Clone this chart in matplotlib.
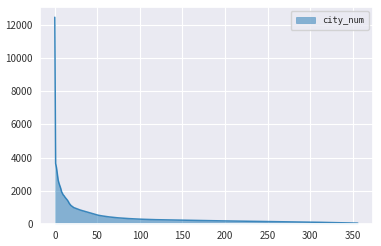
import matplotlib
matplotlib.use("Agg")
import matplotlib.pyplot as plt
import seaborn as sns
import numpy as np
from matplotlib.patches import Patch

sns.set_theme(style="darkgrid")
plt.rcParams['font.family'] = ['Noto Sans CJK SC', 'DejaVu Sans']

series_name = "city_num"
city_num = [
    12440,
    3650, 3400, 3000, 2650, 2450, 2300, 2150, 1950, 1850, 1750,
    1700, 1620, 1560, 1500, 1430, 1350, 1250, 1180, 1120, 1080,
    1050, 1000, 980, 960, 940, 920, 900, 880, 860, 845,
    830, 815, 800, 785, 770, 755, 740, 725, 710, 695,
    680, 665, 650, 635, 620, 605, 590, 575, 560, 545,
    535, 525, 515, 505, 498, 490, 482, 475, 468, 460,
    452, 445, 438, 432, 426, 420, 414, 408, 402, 397,
    392, 387, 382, 378, 374, 370, 366, 362, 358, 354,
    350, 347, 344, 341, 338, 335, 332, 330, 327, 324,
    321, 318, 316, 313, 310, 308, 305, 303, 300, 298,
    296, 294, 292, 290, 288, 286, 284, 282, 281, 279,
    278, 276, 275, 273, 272, 270, 269, 268, 266, 265,
    264, 262, 261, 260, 259, 258, 257, 256, 255, 254,
    253, 252, 251, 250, 249, 248, 247, 246, 246, 245,
    244, 243, 243, 242, 241, 241, 240, 240, 239, 238,
    237, 236, 235, 234, 233, 232, 231, 230, 229, 228,
    227, 226, 225, 224, 223, 222, 221, 220, 219, 218,
    217, 216, 215, 214, 213, 212, 211, 210, 209, 208,
    207, 206, 205, 204, 204, 203, 202, 201, 200, 200,
    199, 198, 197, 197, 196, 195, 195, 194, 193, 192,
    191, 190, 190, 189, 188, 187, 187, 186, 185, 184,
    184, 183, 182, 181, 181, 180, 179, 178, 178, 177,
    176, 175, 175, 174, 173, 172, 172, 171, 170, 169,
    169, 168, 167, 166, 166, 165, 164, 163, 163, 162,
    161, 160, 160, 159, 158, 157, 157, 156, 155, 154,
    154, 153, 152, 151, 151, 150, 149, 148, 148, 147,
    146, 145, 145, 144, 143, 142, 142, 141, 140, 139,
    139, 138, 137, 136, 136, 135, 134, 133, 133, 132,
    131, 130, 130, 129, 128, 127, 127, 126, 125, 124,
    124, 123, 122, 121, 121, 120, 119, 118, 118, 117,
    116, 115, 115, 114, 113, 112, 112, 111, 110, 109,
    109, 108, 107, 106, 106, 105, 104, 103, 103, 102,
    101, 100, 100, 99, 98, 97, 97, 96, 95, 94,
    94, 93, 92, 91, 90, 89, 88, 87, 86, 85,
    84, 83, 82, 81, 80, 79, 78, 77, 76, 74,
    72, 70, 67, 64, 60, 55,
]
x_ticks = [0, 50, 100, 150, 200, 250, 300, 350]
y_ticks = [0, 2000, 4000, 6000, 8000, 10000, 12000]

idx = np.arange(len(city_num))
color = "#1f77b4"

fig = plt.figure(figsize=(3.81, 2.46), dpi=100)
ax = fig.add_axes([0.104, 0.089, 0.875, 0.883])
ax.fill_between(idx, 0, city_num, color=color, alpha=0.5, linewidth=0)
ax.plot(idx, city_num, color=color, linewidth=1.1, alpha=0.85)
ax.set_ylim(0, None)
ax.set_xticks(x_ticks)
ax.set_yticks(y_ticks)
ax.tick_params(labelsize=7, length=0, pad=5, colors="#333333")
ax.grid(True, color="white", linewidth=0.8)

handle = Patch(facecolor=color, alpha=0.5, edgecolor=color, linewidth=0.5)
leg = ax.legend([handle], [series_name], loc="upper right",
                prop={'family': 'DejaVu Sans Mono', 'size': 6.3},
                handlelength=2.2, handleheight=0.8, borderpad=0.55,
                fancybox=True, framealpha=0.8)

fig.savefig("out.png", dpi=100)
